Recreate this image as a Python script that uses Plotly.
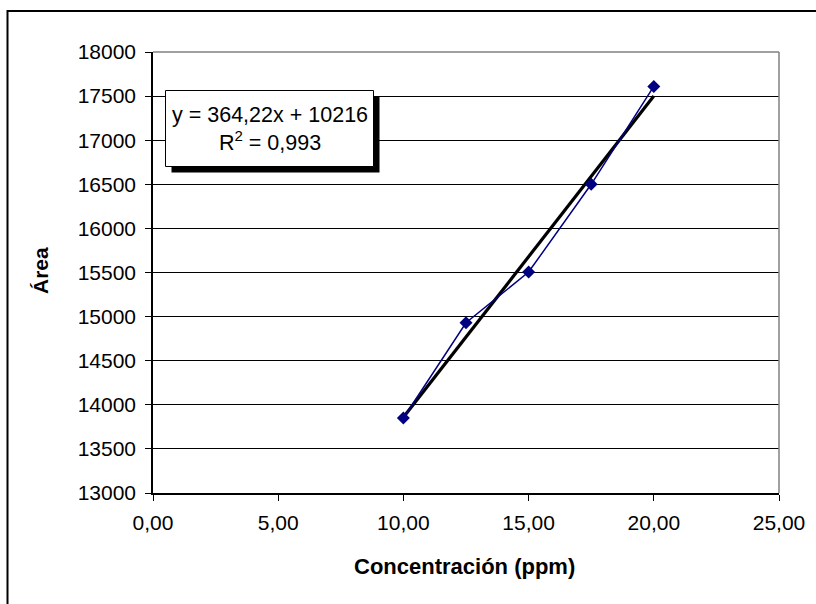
import plotly.graph_objects as go

# ---- data ----
conc = [10.0, 12.5, 15.0, 17.5, 20.0]
area = [13850, 14930, 15505, 16500, 17610]
slope = 364.22
intercept = 10216
trend_x = [10.0, 20.0]
trend_y = [slope * v + intercept for v in trend_x]
x_ticks = [0, 5, 10, 15, 20, 25]
x_labels = ["0,00", "5,00", "10,00", "15,00", "20,00", "25,00"]
y_ticks = [13000, 13500, 14000, 14500, 15000, 15500, 16000, 16500, 17000, 17500, 18000]
y_labels = [str(v) for v in y_ticks]
eq_text = "y = 364,22x + 10216<br>R<sup>2</sup> = 0,993"

# ---- geometry helpers (pixel -> paper) ----
W, H = 816, 604
ML, MR, MT, MB = 153, 37, 52, 111
PW, PH = W - ML - MR, H - MT - MB


def px(x):
    return (x - ML) / PW


def py(y):
    return (H - MB - y) / PH


FONT = "Liberation Sans, Arial, sans-serif"

fig = go.Figure()
fig.add_trace(go.Scatter(x=trend_x, y=trend_y, mode="lines",
                         line=dict(color="black", width=3.2), hoverinfo="skip"))
fig.add_trace(go.Scatter(x=conc, y=area, mode="lines+markers",
                         line=dict(color="#000080", width=1.5),
                         marker=dict(symbol="diamond", size=10, color="#000080")))

shapes = [
    # outer chart frame
    dict(type="rect", xref="paper", yref="paper", x0=px(7.5), x1=px(830),
         y0=py(620), y1=py(11), line=dict(color="black", width=2), layer="above"),
    # plot area top & right border (gray)
    dict(type="line", xref="paper", yref="paper", x0=0, x1=1, y0=1, y1=1,
         line=dict(color="#808080", width=1.5), layer="above"),
    dict(type="line", xref="paper", yref="paper", x0=1, x1=1, y0=0, y1=1,
         line=dict(color="#808080", width=1.5), layer="above"),
    # equation box shadow
    dict(type="rect", xref="paper", yref="paper", x0=px(171.5), x1=px(379.5),
         y0=py(172.5), y1=py(96.5), fillcolor="black", line=dict(width=0), layer="above"),
    # equation box
    dict(type="rect", xref="paper", yref="paper", x0=px(165.5), x1=px(373.5),
         y0=py(166.5), y1=py(90.5), fillcolor="white",
         line=dict(color="black", width=1), layer="above"),
]

annotations = [
    dict(text=eq_text, xref="paper", yref="paper", x=px(269.5), y=py(129),
         xanchor="center", yanchor="middle", showarrow=False, align="center",
         font=dict(family=FONT, size=21.5, color="black")),
    dict(text="<b>Concentración (ppm)</b>", xref="paper", yref="paper",
         x=px(464), y=py(566), xanchor="center", yanchor="middle", showarrow=False,
         font=dict(family=FONT, size=22, color="black")),
    dict(text="<b>Área</b>", xref="paper", yref="paper", textangle=-90,
         x=px(40), y=py(270), xanchor="center", yanchor="middle", showarrow=False,
         font=dict(family=FONT, size=21, color="black")),
]

fig.update_layout(
    width=W, height=H,
    margin=dict(l=ML, r=MR, t=MT, b=MB, pad=0),
    paper_bgcolor="white", plot_bgcolor="white",
    showlegend=False,
    font=dict(family=FONT, size=21, color="black"),
    shapes=shapes, annotations=annotations,
    xaxis=dict(range=[0, 25], tickmode="array", tickvals=x_ticks, ticktext=x_labels,
               ticks="outside", ticklen=6, tickwidth=1.3, tickcolor="black",
               showline=True, linecolor="black", linewidth=1.5,
               showgrid=False, zeroline=False, ticklabelstandoff=4,
               tickfont=dict(family=FONT, size=21, color="black")),
    yaxis=dict(range=[13000, 18000], tickmode="array", tickvals=y_ticks, ticktext=y_labels,
               ticks="outside", ticklen=6, tickwidth=1.3, tickcolor="black",
               showline=True, linecolor="black", linewidth=1.5,
               showgrid=True, gridcolor="black", gridwidth=1.3, zeroline=False,
               ticklabelstandoff=5,
               tickfont=dict(family=FONT, size=21, color="black")),
)

fig.write_html("out.html")
